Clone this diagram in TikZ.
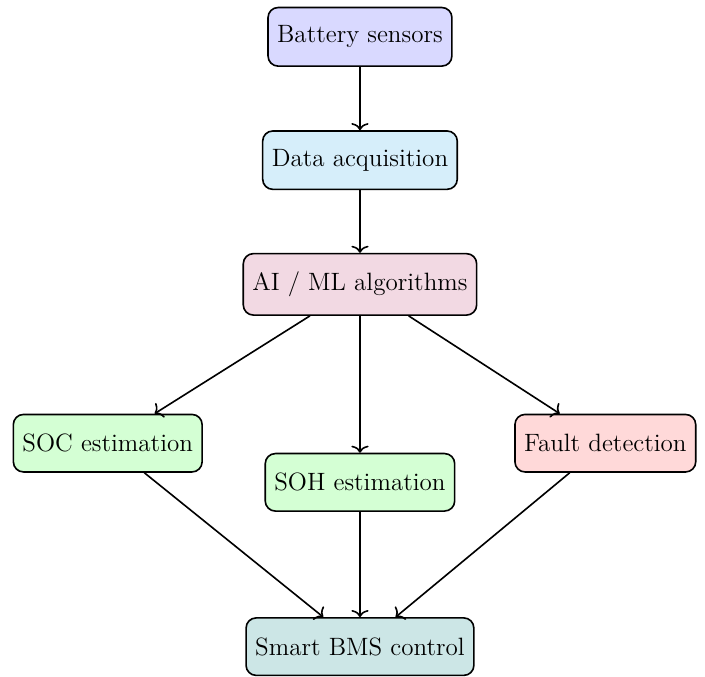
\documentclass[12pt,tikz,border=0pt]{standalone}
\usepackage{xcolor}
\usepackage{tikz}
\usetikzlibrary{positioning,arrows.meta}

\definecolor{sensblue}{HTML}{D9D9FF}
\definecolor{acqblue}{HTML}{D6EEFA}
\definecolor{aipink}{HTML}{F2D9E3}
\definecolor{estgreen}{HTML}{D4FFD4}
\definecolor{faultred}{HTML}{FFD9D9}
\definecolor{bmsteal}{HTML}{CCE6E6}

\begin{document}
\begin{tikzpicture}[
    thick,->,>={To[width=8.5pt,length=3.5pt]},
    box/.style={rectangle,draw,rounded corners=5pt,minimum height=1cm,
                inner xsep=4.5pt,inner ysep=9pt,align=center,
                font=\fontsize{12.4}{14}\selectfont}
]
    \useasboundingbox (-6.26,0.64) rectangle (6.0,-11.13);

    % Main chain
    \node[box,fill=sensblue] (sensors) at (0,0) {Battery sensors};
    \node[box,fill=acqblue] (acq) [below=1.1cm of sensors] {Data acquisition};
    \node[box,fill=aipink] (ai) [below=1.09cm of acq] {AI / ML algorithms};

    % Estimation row
    \node[box,fill=estgreen] (soh) [below=2.38cm of ai] {SOH estimation};
    \node[box,fill=estgreen] (soc) [left=1.07cm of soh,yshift=0.68cm] {SOC estimation};
    \node[box,fill=faultred] (fault) [right=1.02cm of soh,yshift=0.68cm] {Fault detection};

    % Control
    \node[box,fill=bmsteal] (bms) [below=1.83cm of soh] {Smart BMS control};

    % Connections
    \draw (sensors) -- (acq);
    \draw (acq) -- (ai);
    \draw (ai) -- (soc);
    \draw (ai) -- (soh);
    \draw (ai) -- (fault);
    \draw (soc) -- (bms);
    \draw (soh) -- (bms);
    \draw (fault) -- (bms);
\end{tikzpicture}
\end{document}
